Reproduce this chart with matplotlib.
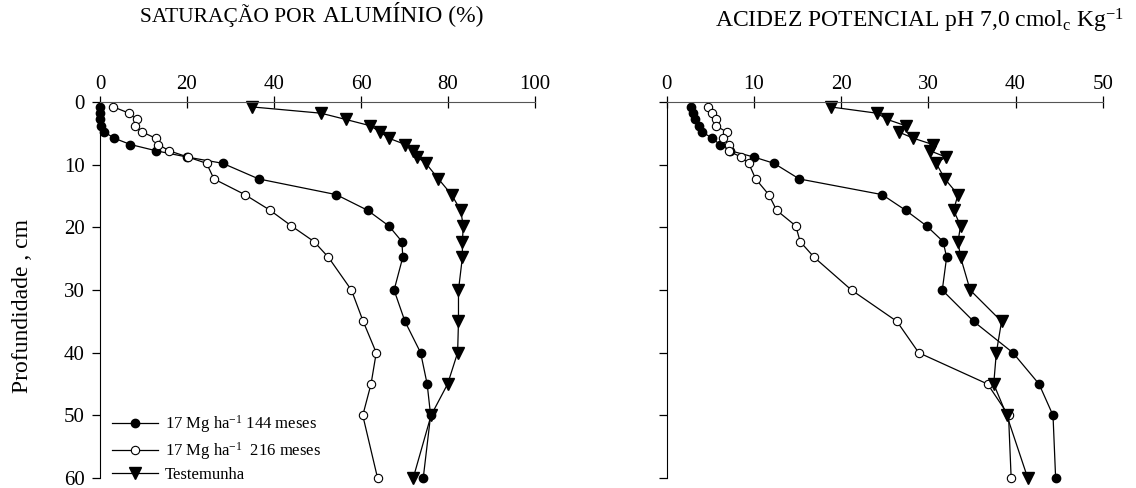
import matplotlib
matplotlib.use("Agg")
import matplotlib.pyplot as plt

plt.rcParams["font.family"] = ["Liberation Serif", "DejaVu Serif"]
plt.rcParams["mathtext.fontset"] = "custom"
plt.rcParams["mathtext.rm"] = "Liberation Serif"
plt.rcParams["mathtext.it"] = "Liberation Serif"

# depth of each sample (cm)
depth = [0.75, 1.75, 2.75, 3.75, 4.75, 5.75, 6.75, 7.75, 8.75, 9.75,
         12.25, 14.75, 17.25, 19.75, 22.25, 24.75, 30, 35, 40, 45, 50, 60]

# aluminium saturation (%)
al_144 = [0, 0, 0, 0.2, 1.0, 3.3, 7.0, 12.9, 20.0, 28.2, 36.5,
          54.3, 61.5, 66.4, 69.4, 69.6, 67.6, 70.1, 73.7, 75.2, 76.0, 74.3]
al_216 = [3.1, 6.7, 8.4, 8.0, 9.7, 12.8, 13.4, 15.9, 20.2, 24.5, 26.2,
          33.3, 39.1, 44.0, 49.2, 52.5, 57.8, 60.5, 63.5, 62.3, 60.4, 63.8]
al_test = [35.0, 50.8, 56.5, 62.1, 64.4, 66.4, 70.2, 72.0, 72.9, 74.9, 77.8,
           80.8, 82.9, 83.5, 83.3, 83.3, 82.4, 82.4, 82.2, 79.9, 76.1, 72.0]

# potential acidity (cmolc/kg)
hal_144 = [2.8, 3.0, 3.25, 3.7, 4.1, 5.2, 6.1, 7.3, 10.0, 12.3, 15.2,
           24.7, 27.4, 29.8, 31.7, 32.1, 31.6, 35.2, 39.7, 42.7, 44.3, 44.6]
hal_216 = [4.7, 5.2, 5.6, 5.6, 6.9, 6.5, 7.1, 7.1, 8.5, 9.4, 10.2,
           11.7, 12.6, 14.8, 15.3, 16.9, 21.2, 26.4, 28.9, 36.8, 39.2, 39.5]
hal_test = [18.8, 24.1, 25.3, 27.4, 26.6, 28.3, 30.5, 30.2, 32.0, 30.9, 31.9,
            33.4, 32.9, 33.7, 33.4, 33.7, 34.8, 38.4, 37.8, 37.5, 39.0, 41.4]

labels = ["17 Mg ha$^{-1}$ 144 meses", "17 Mg ha$^{-1}$  216 meses", "Testemunha"]

fig = plt.figure(figsize=(11.36, 4.88), dpi=100)
ax1 = fig.add_axes([0.088, 0.0205, 0.383, 0.770])
ax2 = fig.add_axes([0.5869, 0.0205, 0.3838, 0.770])


def draw(ax, s144, s216, stest, xmax, xstep):
    kw = dict(color="black", lw=0.9, clip_on=False)
    ax.plot(s144, depth, marker="o", ms=6, mfc="black", mec="black", label=labels[0], **kw)
    ax.plot(s216, depth, marker="o", ms=6, mfc="white", mec="black", mew=0.8, label=labels[1], **kw)
    ax.plot(stest, depth, marker="v", ms=8, mfc="black", mec="black", label=labels[2], **kw)
    ax.set_xlim(0, xmax)
    ax.set_ylim(60, 0)
    ax.set_xticks(range(0, xmax + 1, xstep))
    ax.set_yticks(range(0, 61, 10))
    ax.xaxis.tick_top()
    ax.spines["right"].set_visible(False)
    ax.spines["bottom"].set_visible(False)
    ax.spines["top"].set_color("#555555")
    ax.spines["left"].set_bounds(0, 60)
    ax.tick_params(axis="x", direction="inout", length=8, width=0.9, labelsize=15, pad=2)
    ax.tick_params(axis="y", direction="out", length=6, width=0.9, labelsize=15, pad=5)


draw(ax1, al_144, al_216, al_test, 100, 20)
draw(ax2, hal_144, hal_216, hal_test, 50, 10)
ax2.tick_params(axis="y", labelleft=False)

ax1.set_ylabel("Profundidade , cm", fontsize=17)
ax1.yaxis.set_label_coords(-0.154, 0.457)

fig.text(0.123, 0.955, "SATURAÇÃO POR", fontsize=15.5, ha="left", va="baseline")
fig.text(0.284, 0.957, "ALUMÍNIO (%)", fontsize=17, ha="left", va="baseline")
fig.text(0.629, 0.943, "ACIDEZ POTENCIAL pH 7,0 cmol$_\\mathrm{c}$ Kg$^{-1}$",
         fontsize=17, ha="left", va="baseline")

ax1.legend(loc="lower left", bbox_to_anchor=(0.0, -0.045), frameon=False,
           fontsize=12, handlelength=2.8, handletextpad=0.4, labelspacing=0.3,
           borderaxespad=0.3)

fig.savefig("out.png", dpi=100)
